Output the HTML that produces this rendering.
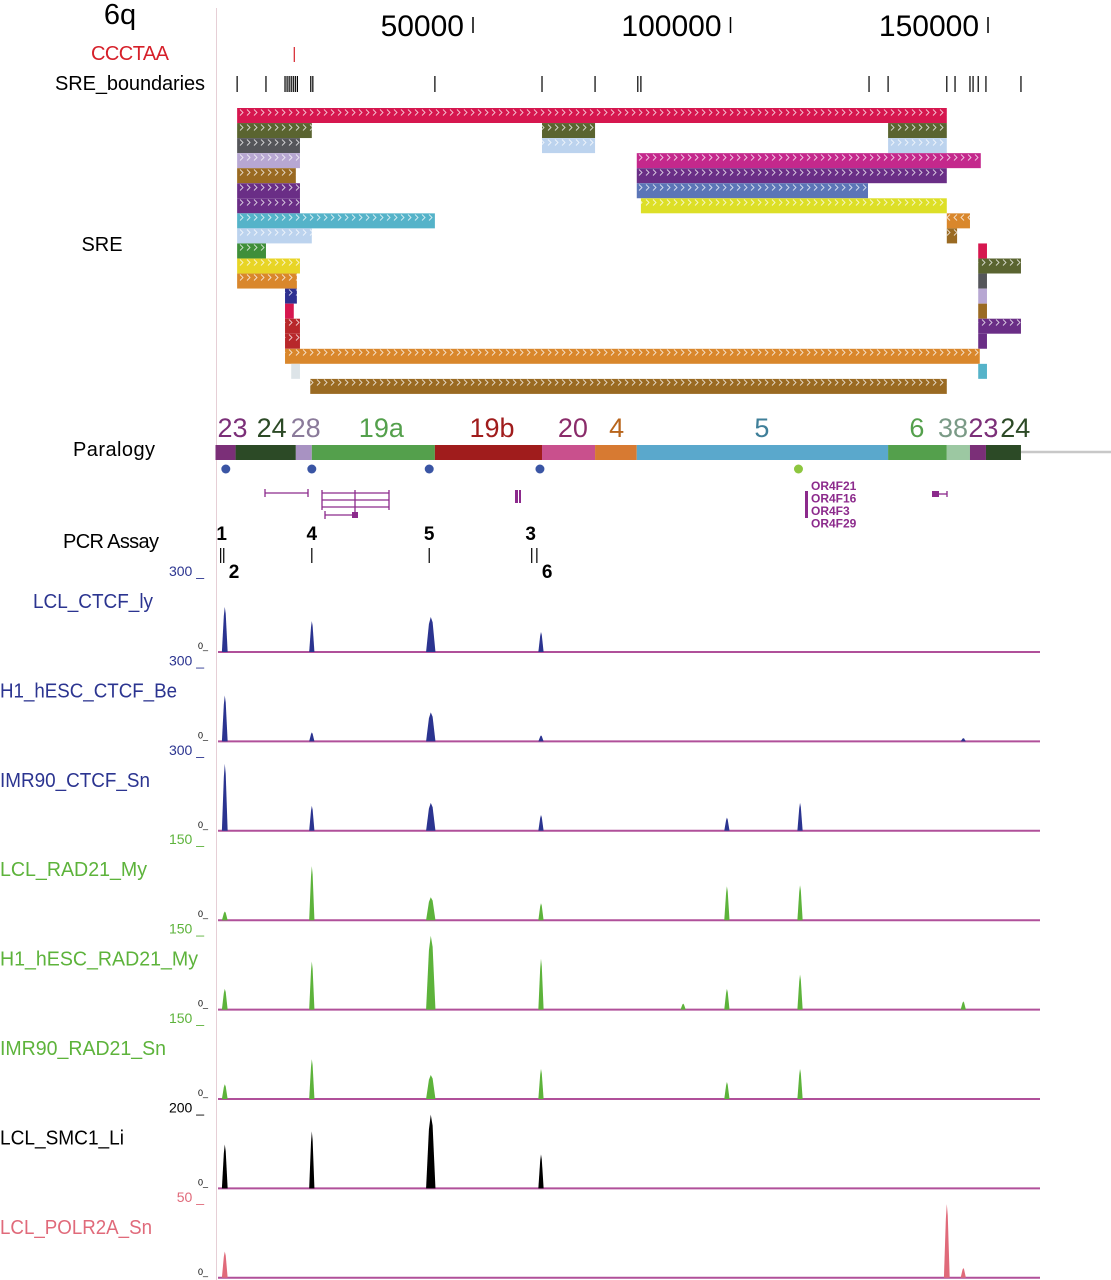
<!DOCTYPE html>
<html><head><meta charset="utf-8">
<style>
html,body{margin:0;padding:0;background:#fff;}
svg{display:block;font-family:"Liberation Sans",sans-serif;}
</style></head>
<body>
<svg id="fig" width="1111" height="1280" viewBox="0 0 1111 1280" xmlns="http://www.w3.org/2000/svg">
<defs>
<pattern id="chev" width="7" height="15" patternUnits="userSpaceOnUse">
<path d="M2 4.5 L5 7.5 L2 10.5" fill="none" stroke="rgba(255,255,255,0.75)" stroke-width="0.9"/>
</pattern>
<pattern id="chevl" width="7" height="15" patternUnits="userSpaceOnUse">
<path d="M5 4.5 L2 7.5 L5 10.5" fill="none" stroke="rgba(255,255,255,0.75)" stroke-width="0.9"/>
</pattern>
</defs>
<line x1="216.5" y1="8" x2="216.5" y2="1280" stroke="#e6cfd6" stroke-width="1"/>
<text x="120" y="24" font-size="29" text-anchor="middle" fill="#000">6q</text>
<text x="130" y="60" font-size="20" text-anchor="middle" fill="#d6202a" textLength="78">CCCTAA</text>
<text x="130" y="90" font-size="20" text-anchor="middle" fill="#000" textLength="150">SRE_boundaries</text>
<text x="102" y="251" font-size="20" text-anchor="middle" fill="#000">SRE</text>
<text x="114" y="456" font-size="20" text-anchor="middle" fill="#000" textLength="82">Paralogy</text>
<text x="111" y="548" font-size="20" text-anchor="middle" fill="#000" textLength="96">PCR Assay</text>
<g id="axis"></g>
<g id="marks"></g>
<g id="tracks"></g>
</svg>
<script>
// ----- coordinate axis (kb) -----
const axisTicks = [50, 100, 150];
const axisTickLabels = ["50000", "100000", "150000"];
const ccctaaSites = [15.3];
const sreBoundaries = [4.2, 9.8, 13.5, 13.9, 14.3, 14.7, 15.1, 15.5, 15.9, 18.5, 18.9, 42.6, 63.4, 73.7, 82.0, 82.6, 126.9, 130.6, 142.0, 143.6, 146.5, 147.1, 148.1, 149.6, 156.4];
// SRE blocks: row, start kb, end kb, color, dir
const sreRows = [0,1,1,1,2,2,2,3,3,4,4,5,5,6,6,7,7,8,8,9,9,10,10,11,11,12,12,13,13,14,14,15,15,16,17,17,18];
const sreStarts = [4.2,4.2,63.4,130.6,4.2,63.4,130.6,4.2,81.8,4.2,81.8,4.2,81.8,4.2,82.6,4.2,142.0,4.2,142.0,4.2,148.1,4.2,148.1,4.2,148.1,13.5,148.1,13.5,148.1,13.5,148.1,13.5,148.1,13.5,14.7,148.1,18.4];
const sreEnds = [142.0,18.7,73.7,142.0,16.4,73.7,142.0,16.4,148.6,15.6,142.0,16.4,126.7,16.4,142.0,42.6,146.5,18.7,144.0,9.8,149.8,16.4,156.4,15.8,149.8,15.8,149.8,15.2,149.8,16.4,156.4,16.4,149.8,148.4,16.4,149.8,142.0];
const sreColors = ["#d6174f","#5a6430","#5a6430","#5a6430","#55565a","#bcd3ee","#bcd3ee","#b7a7d2","#c4288c","#9a6a22","#6a2e86","#6a2e86","#5b75b7","#6a2e86","#dddf27","#55b3c9","#d9872c","#bcd3ee","#9a6a22","#3f8f3a","#d6174f","#e8d526","#5a6430","#d9872c","#55565a","#2e3090","#b7a7d2","#d6174f","#9a6a22","#b8282b","#6a2e86","#b8282b","#6a2e86","#d9872c","#dde4e8","#55b3c9","#9a6a22"];
const sreDirs = [1,1,1,1,1,1,1,1,1,1,1,1,1,1,1,1,-1,1,1,1,0,1,1,1,0,1,0,0,0,1,1,1,0,1,0,0,1];
// paralogy
const paraNames = ["23","24","28","19a","19b","20","4","5","6","38","23","24"];
const paraStarts = [0,3.9,15.6,18.7,42.6,63.4,73.7,81.8,130.6,142.0,146.5,149.6];
const paraEnds = [3.9,15.6,18.7,42.6,63.4,73.7,81.8,130.6,142.0,146.5,149.6,156.4];
const paraLabelPos = [3.3,10.9,17.5,32.2,53.7,69.4,77.9,106.1,136.2,143.2,149.1,155.3];
const paraColors = ["#7b2f78","#2c4a26","#a892c2","#54a04c","#a01c1c","#c9508d","#d77a32","#5aa8cc","#54a04c","#9cc8a2","#7b2f78","#2c4a26"];
const paraTextColors = ["#7b2f78","#2c4a26","#8a7a9a","#54a04c","#a01c1c","#8a2c6a","#b8651c","#3f7f99","#54a04c","#7a9a86","#7b2f78","#2c4a26"];
const dotPos = [2.0, 18.7, 41.5, 63.0, 113.2];
const dotColors = ["#3a55a4","#3a55a4","#3a55a4","#3a55a4","#8dc63f"];
const pcrLabels = ["1","4","5","3","2","6"];
const pcrPos = [1.2, 18.7, 41.5, 61.2, 3.6, 64.4];
const pcrTicks = [1.0, 1.6, 18.7, 41.5, 61.4, 62.4];

// ----- signal tracks -----
const trackNames = ["LCL_CTCF_ly","H1_hESC_CTCF_Be","IMR90_CTCF_Sn","LCL_RAD21_My","H1_hESC_RAD21_My","IMR90_RAD21_Sn","LCL_SMC1_Li","LCL_POLR2A_Sn"];
const trackMax = [300,300,300,150,150,150,200,50];
const trackColors = ["#2b3490","#2b3490","#2b3490","#5db33b","#5db33b","#5db33b","#000000","#e06a7a"];
const peakPositions = [1.8, 18.7, 41.8, 63.2, 90.8, 99.3, 113.5, 142.0, 145.2];
const peakWidths = [0.5, 0.4, 1.2, 0.4, 0.4, 0.4, 0.4, 0.5, 0.4];
const lclCtcf = [165,113,128,73,0,0,0,0,0];
const h1Ctcf = [168,33,106,22,0,0,0,0,12];
const imrCtcf = [245,91,102,58,0,48,102,0,0];
const lclRad21 = [16,99,42,31,0,62,64,0,0];
const h1Rad21 = [38,88,135,93,11,38,64,0,15];
const imrRad21 = [27,73,44,55,0,31,55,0,0];
const lclSmc1 = [107,139,180,83,0,0,0,0,0];
const lclPolr2a = [16,0,0,0,0,0,0,45,6];
const trackValues = [lclCtcf,h1Ctcf,imrCtcf,lclRad21,h1Rad21,imrRad21,lclSmc1,lclPolr2a];
const labelLeft = [33,0,0,0,0,0,0,0];
const labelWidth = [120,177,150,147,198,166,124,152];

const NS="http://www.w3.org/2000/svg";
const x = kb => 215.5 + kb * 5.15;
function mk(tag, attrs, parent){const e=document.createElementNS(NS,tag);for(const k in attrs)e.setAttribute(k,attrs[k]);parent.appendChild(e);return e;}
const axis=document.getElementById('axis'), marks=document.getElementById('marks'), tracks=document.getElementById('tracks');

axisTicks.forEach((t,i)=>{
  const l=mk('line',{x1:x(t),x2:x(t),y1:17,y2:33,stroke:'#000','stroke-width':1.5},axis);
  
  
  const tx=mk('text',{x:x(t)-9,y:36,'font-size':30,'text-anchor':'end',fill:'#000'},axis);
  tx.textContent=axisTickLabels[i];
  
  
});
ccctaaSites.forEach(p=>{
  const l=mk('line',{x1:x(p),x2:x(p),y1:47,y2:62,stroke:'#d6202a','stroke-width':1.2},marks);
  
  
});
sreBoundaries.forEach(p=>{
  const l=mk('line',{x1:x(p),x2:x(p),y1:76,y2:92,stroke:'#000','stroke-width':1.2},marks);
  
  
});
sreRows.forEach((r,i)=>{
  const y=108+r*15.05, x0=x(sreStarts[i]), w=x(sreEnds[i])-x0;
  const b=mk('rect',{x:x0,y:y,width:w,height:15,fill:sreColors[i]},marks);
  
  
  if(sreDirs[i]!==0){
    const c=mk('rect',{x:x0,y:y,width:w,height:15,fill:sreDirs[i]>0?'url(#chev)':'url(#chevl)'},marks);
    
    
  }
});
const ext=mk('line',{x1:x(156.4),x2:1111,y1:452,y2:452,stroke:'#c8c8c8','stroke-width':2.5},marks);


paraNames.forEach((n,i)=>{
  const s=mk('rect',{x:x(paraStarts[i]),y:445,width:x(paraEnds[i])-x(paraStarts[i]),height:15,fill:paraColors[i]},marks);
  
  
  const t=mk('text',{x:x(paraLabelPos[i]),y:437,'font-size':27,'text-anchor':'middle',fill:paraTextColors[i]},marks);
  t.textContent=n;
  
  
});
dotPos.forEach((p,i)=>{
  const d=mk('circle',{cx:x(p),cy:469,r:4.5,fill:dotColors[i]},marks);
  
  
});
pcrLabels.forEach((n,i)=>{
  const lower=i>=4;
  const t=mk('text',{x:x(pcrPos[i]),y:lower?578:540,'font-size':19,'font-weight':'bold','text-anchor':'middle',fill:'#000'},marks);
  t.textContent=n;
  
  
});
pcrTicks.forEach(p=>{
  const l=mk('line',{x1:x(p),x2:x(p),y1:548,y2:563,stroke:'#000','stroke-width':1.2},marks);
  
  
});

trackNames.forEach((name,ti)=>{
  const base=652+ti*89.4, top=base-82, col=trackColors[ti], g=mk('g',{},tracks);
  
  
  const lab=mk('text',{x:labelLeft[ti],y:top+38,'font-size':20,'text-anchor':'start',fill:col,textLength:labelWidth[ti],lengthAdjust:'spacingAndGlyphs'},g);
  lab.textContent=name;
  
  
  const mx=mk('text',{x:204,y:top+6,'font-size':14,'text-anchor':'end',fill:col},g);
  mx.textContent=trackMax[ti]+' _';
  
  
  const z=mk('text',{x:208,y:base-3,'font-size':9,'text-anchor':'end',fill:'#000'},g);
  z.textContent='0_';
  
  
  const bl=mk('line',{x1:218,x2:1040,y1:base,y2:base,stroke:'#b0509a','stroke-width':2},g);
  
  
  const sy=v=>base-v/trackMax[ti]*82;
  trackValues[ti].forEach((v,pi)=>{
    if(v<=0) return;
    const c=x(peakPositions[pi]), hw=peakWidths[pi]*5.15/2+0.6;
    const p=mk('polygon',{points:`${c-hw-1},${base} ${c-hw*0.5},${sy(v*0.8)} ${c},${sy(v)} ${c+hw*0.5},${sy(v*0.85)} ${c+hw+1},${base}`,fill:col},g);
    
    
  });
});

// gene annotations
const gc="#8c2a8c";
function gl(x1,y1,x2,y2,n){const l=mk('line',{x1,y1,x2,y2,stroke:gc,'stroke-width':1.3},marks);}
function gr(xx,y,w,h,n){const r=mk('rect',{x:xx,y:y,width:w,height:h,fill:gc},marks);}
gl(265,493,308,493,'gene-model');gl(265,489,265,497,'gene-model');gl(308,489,308,497,'gene-model');
[493,500,507].forEach(y=>gl(322,y,389,y,'gene-model'));
gl(322,490,322,510,'gene-model');gl(389,490,389,510,'gene-model');gl(355,490,355,517,'gene-model');
gl(325,515,355,515,'gene-model');gl(325,511,325,519,'gene-model');
gr(352,512,6,6,'gene-exon');
gr(515,490,3,13,'gene-exon');
gr(519,490,2,13,'gene-exon');
gr(805,491,3,27,'or4f-gene-cluster');
gr(932,491,7,6,'gene-exon');
gl(939,494,947,494,'gene-model');gl(947,491,947,497,'gene-model');
["OR4F21","OR4F16","OR4F3","OR4F29"].forEach((n,i)=>{
  const t=mk('text',{x:811,y:490+i*12.5,'font-size':12,'font-weight':'bold',fill:gc},marks);
  t.textContent=n;
  
  
});
</script>
</body></html>
